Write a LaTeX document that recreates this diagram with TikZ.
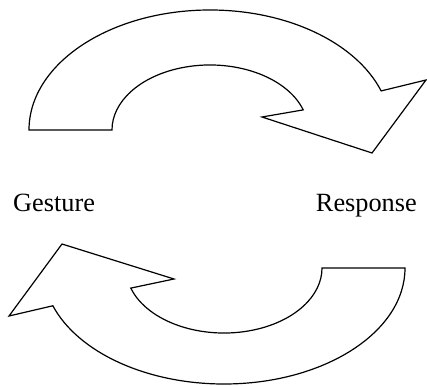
\documentclass[tikz,border=0pt]{standalone}
\usepackage{fontspec}
\setmainfont{Liberation Serif}
\usepackage{tikz}

\begin{document}
\begin{tikzpicture}[x=1pt,y=1pt,
    blockarrow/.style={draw,line width=1.2pt,line join=miter,fill=white},
    label/.style={inner sep=0pt,font=\fontsize{26.3}{30}\selectfont}]
        \useasboundingbox (0,0) rectangle (427,385);
        % upper arrow, left to right
        \coordinate (upstart) at (29,255);
        \draw[blockarrow] (upstart) arc[start angle=180,end angle=19,x radius=181pt,y radius=120pt]
                  -- (426,305) -- (372,232) -- (262,268) -- (303.2,275.1)
                  arc[start angle=18,end angle=180,x radius=98pt,y radius=65pt] -- cycle;
        % lower arrow, right to left
        \coordinate (lowstart) at (405,117);
        \draw[blockarrow] (lowstart) arc[start angle=0,end angle=-161,x radius=181pt,y radius=116pt]
                  -- (9,69) -- (62,141) -- (174,106) -- (130.8,96.9)
                  arc[start angle=-162,end angle=0,x radius=98pt,y radius=65pt] -- cycle;
        % labels
        \node[label,anchor=base west] (gesture) at (13,173) {Gesture};
        \node[label,anchor=base east] (response) at (417,173) {Response};
      \end{tikzpicture}
\end{document}
